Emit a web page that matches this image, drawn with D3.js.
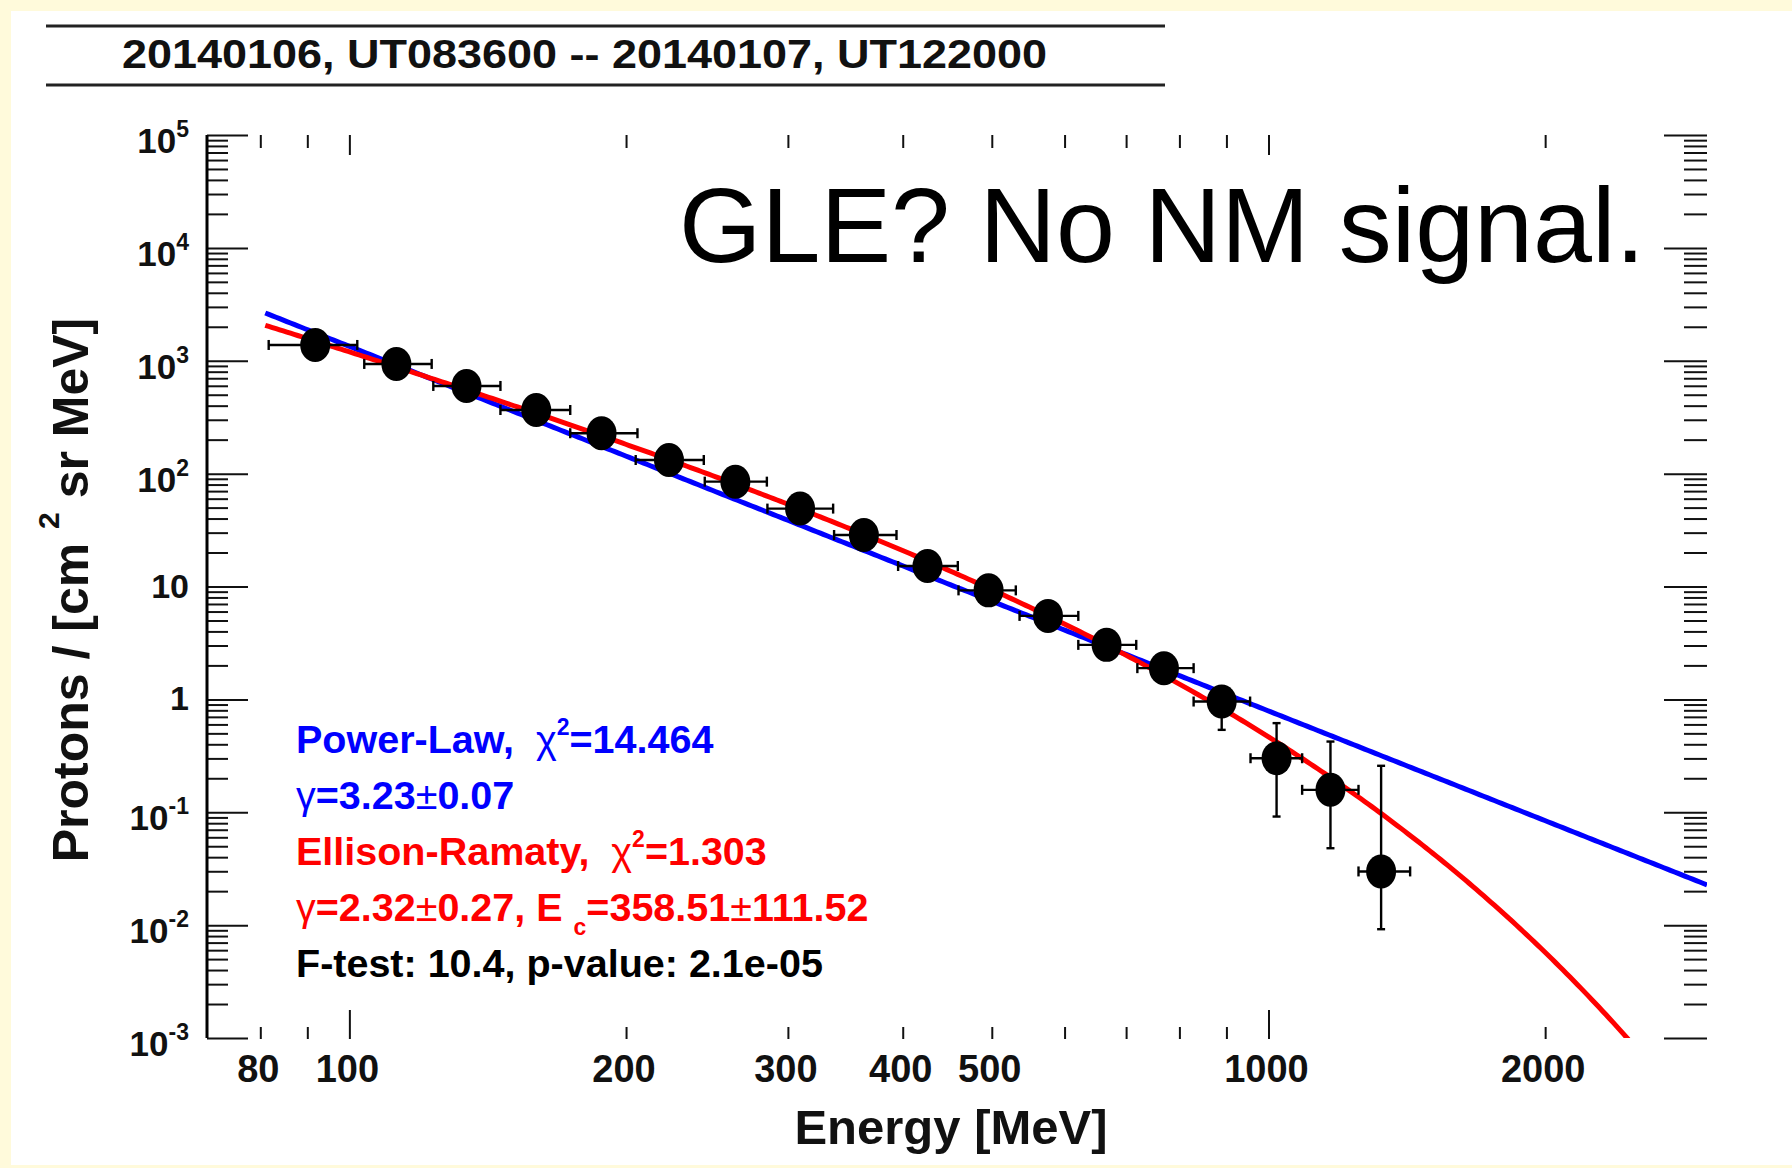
<!DOCTYPE html>
<html>
<head>
<meta charset="utf-8">
<script src="https://cdn.jsdelivr.net/npm/d3@7"></script>
<style>
  html, body { margin: 0; padding: 0; background: #fffadb; }
  svg { display: block; }
  text { font-family: "Liberation Sans", Arial, Helvetica, sans-serif; white-space: pre; }
</style>
</head>
<body>
<svg id="chart" width="1792" height="1168"></svg>
<script>
// Proton differential spectrum, 2014-01-06 08:36 UT -- 2014-01-07 12:20 UT

// Energy bins [MeV]: centre, lower and upper edge
const energy   = [91.8, 112.5, 134.1, 159.7, 188.1, 222.7, 263, 309.3, 362.9, 425.6, 496, 575.6, 666.6, 769.6, 889.4, 1020.5, 1168, 1326];
const energyLo = [81.7, 103.8, 123.4, 146, 173.9, 204.9, 243.6, 285, 336.8, 395.4, 460, 536, 621, 720, 829, 956, 1088, 1253];
const energyHi = [102, 122.9, 146, 173.9, 205.8, 243, 284.6, 336, 393.8, 459.2, 531, 621, 718, 829, 955, 1088, 1253, 1426];

// Proton flux [1/(cm^2 sr MeV)] with lower / upper error limits
const flux   = [1380, 937, 598, 366, 228, 132, 84.9, 49.0, 28.6, 15.2, 9.24, 5.49, 3.04, 1.89, 0.957, 0.301, 0.158, 0.0299];
const fluxLo = [1300, 890, 570, 350, 218, 126, 81, 46.5, 27, 14.3, 8.6, 5.05, 2.75, 1.65, 0.537, 0.0916, 0.048, 0.0092];
const fluxHi = [1460, 985, 628, 382, 238, 138, 89, 51.5, 30.2, 16.1, 9.9, 5.95, 3.33, 2.13, 1.15, 0.616, 0.423, 0.258];

// Fit parameters
const plGamma = 3.23;      // power law index
const plNorm1GeV = 0.79;   // power law flux at 1000 MeV
const erGamma = 2.32;      // Ellison-Ramaty index
const erEc = 358.51;       // Ellison-Ramaty cut-off energy [MeV]
const erNorm1GeV = 0.466;  // Ellison-Ramaty flux at 1000 MeV
const fitEmin = 81, fitEmax = 3000;

// Axis ticks and labels
const xLabelValues = [80, 100, 200, 300, 400, 500, 1000, 2000];
const xMajorTicks = [100, 1000];
const xMinorTicks = [80, 90, 200, 300, 400, 500, 600, 700, 800, 900, 2000];
const yDecades = [5, 4, 3, 2, 1, 0, -1, -2, -3];

const legendLines = [
  { color: "#0000ff", parts: [["Power-Law,  ", "b"], ["\u03c7", "n"], ["2", "sup"], ["=14.464", "b"]] },
  { color: "#0000ff", parts: [["\u03b3", "n"], ["=3.23", "b"], ["\u00b1", "n"], ["0.07", "b"]] },
  { color: "#ff0000", parts: [["Ellison-Ramaty,  ", "b"], ["\u03c7", "n"], ["2", "sup"], ["=1.303", "b"]] },
  { color: "#ff0000", parts: [["\u03b3", "n"], ["=2.32", "b"], ["\u00b1", "n"], ["0.27, E ", "b"], ["c", "sub"], ["=358.51", "b"], ["\u00b1", "n"], ["111.52", "b"]] },
  { color: "#000000", parts: [["F-test: 10.4, p-value: 2.1e-05", "b"]] }
];

const svg = d3.select("#chart");

// white panel on the pale frame
svg.append("rect").attr("x", 11).attr("y", 11).attr("width", 1781).attr("height", 1154).attr("fill", "#ffffff");

const x = d3.scaleLog().domain([70, 3000]).range([207, 1707]);
const y = d3.scaleLog().domain([1e-3, 1e5]).range([1038, 135]);

// header with time interval
svg.append("line").attr("x1", 46).attr("x2", 1165).attr("y1", 26).attr("y2", 26).attr("stroke", "#222").attr("stroke-width", 3);
svg.append("line").attr("x1", 46).attr("x2", 1165).attr("y1", 85).attr("y2", 85).attr("stroke", "#222").attr("stroke-width", 3);
svg.append("text").attr("x", 122).attr("y", 68)
  .attr("font-size", 41).attr("font-weight", "bold").attr("fill", "#111")
  .attr("textLength", 925).attr("lengthAdjust", "spacingAndGlyphs")
  .text("20140106, UT083600 -- 20140107, UT122000");

// tick marks
function tickGroup(axis, tx, ty) {
  const g = svg.append("g").attr("transform", `translate(${tx},${ty})`).call(axis);
  g.select(".domain").remove();
  g.selectAll(".tick line").attr("stroke", "#111").attr("stroke-width", 2);
  g.selectAll(".tick text").remove();
  return g;
}
const yMajor = yDecades.map(d => Math.pow(10, d));
const yMinor = [];
yDecades.filter(d => d < 5).forEach(d => { for (let m = 2; m <= 9; m++) yMinor.push(m * Math.pow(10, d)); });

tickGroup(d3.axisRight(y).tickValues(yMinor).tickSize(21), 207, 0);
tickGroup(d3.axisRight(y).tickValues(yMajor).tickSize(41), 207, 0);
tickGroup(d3.axisLeft(y).tickValues(yMinor).tickSize(23), 1707, 0);
tickGroup(d3.axisLeft(y).tickValues(yMajor).tickSize(43), 1707, 0);
tickGroup(d3.axisTop(x).tickValues(xMinorTicks).tickSize(12), 0, 1039);
tickGroup(d3.axisTop(x).tickValues(xMajorTicks).tickSize(29), 0, 1039);
tickGroup(d3.axisBottom(x).tickValues(xMinorTicks).tickSize(13), 0, 135);
tickGroup(d3.axisBottom(x).tickValues(xMajorTicks).tickSize(20), 0, 135);

// left axis line
svg.append("line").attr("x1", 207).attr("x2", 207).attr("y1", y(1e5)).attr("y2", y(1e-3))
  .attr("stroke", "#000").attr("stroke-width", 3);

// y tick labels
yDecades.forEach(d => {
  const ty = y(Math.pow(10, d));
  const t = svg.append("text").attr("x", 189).attr("text-anchor", "end")
    .attr("font-weight", "bold").attr("fill", "#111");
  if (d === 0 || d === 1) {
    t.attr("y", ty + 11).attr("font-size", 34).text(d === 0 ? "1" : "10");
  } else {
    t.attr("y", ty + 18);
    t.append("tspan").attr("font-size", 35).text("10");
    t.append("tspan").attr("font-size", 23).attr("dy", -16).text(String(d));
  }
});

// x tick labels
svg.selectAll("text.xlab").data(xLabelValues).join("text")
  .attr("class", "xlab")
  .attr("x", v => x(v) - 2).attr("y", 1082)
  .attr("text-anchor", "middle").attr("font-size", 38).attr("font-weight", "bold").attr("fill", "#111")
  .text(v => v);

// axis titles
svg.append("text").attr("x", 951).attr("y", 1144).attr("text-anchor", "middle")
  .attr("font-size", 49).attr("font-weight", "bold").attr("fill", "#111").text("Energy [MeV]");

const yt = svg.append("text").attr("transform", "translate(88,590) rotate(-90)")
  .attr("text-anchor", "middle").attr("font-size", 50).attr("font-weight", "bold").attr("fill", "#111");
yt.append("tspan").text("Protons / [cm ");
yt.append("tspan").attr("font-size", 30).attr("dy", -29).text("2");
yt.append("tspan").attr("dy", 29).text(" sr MeV]");

// event note
svg.append("text").attr("x", 679).attr("y", 262)
  .attr("font-size", 106).attr("fill", "#000")
  .attr("textLength", 966).attr("lengthAdjust", "spacingAndGlyphs")
  .text("GLE? No NM signal.");

// clip to plot area
svg.append("defs").append("clipPath").attr("id", "plotClip")
  .append("rect").attr("x", 207).attr("y", 135).attr("width", 1500).attr("height", 903);

// fitted spectra
const fitE = d3.range(0, 401).map(i => fitEmin * Math.pow(fitEmax / fitEmin, i / 400));
const powerLaw = e => plNorm1GeV * Math.pow(e / 1000, -plGamma);
const ellisonRamaty = e => erNorm1GeV * Math.pow(e / 1000, -erGamma) * Math.exp(-(e - 1000) / erEc);
const line = d3.line().x(d => x(d[0])).y(d => y(d[1]));

const curves = svg.append("g").attr("clip-path", "url(#plotClip)");
curves.append("path").datum(fitE.map(e => [e, powerLaw(e)]))
  .attr("d", line).attr("fill", "none").attr("stroke", "#0000ff").attr("stroke-width", 5);
curves.append("path").datum(fitE.map(e => [e, ellisonRamaty(e)]))
  .attr("d", line).attr("fill", "none").attr("stroke", "#ff0000").attr("stroke-width", 5);

// data points with error bars
const pts = energy.map((e, i) => ({ e, lo: energyLo[i], hi: energyHi[i], f: flux[i], fl: fluxLo[i], fh: fluxHi[i] }));
const eb = svg.append("g").attr("stroke", "#000").attr("stroke-width", 2.4);
pts.forEach(p => {
  const cx = x(p.e), cy = y(p.f);
  eb.append("line").attr("x1", x(p.lo)).attr("x2", x(p.hi)).attr("y1", cy).attr("y2", cy);
  eb.append("line").attr("x1", x(p.lo)).attr("x2", x(p.lo)).attr("y1", cy - 5).attr("y2", cy + 5);
  eb.append("line").attr("x1", x(p.hi)).attr("x2", x(p.hi)).attr("y1", cy - 5).attr("y2", cy + 5);
  eb.append("line").attr("x1", cx).attr("x2", cx).attr("y1", y(p.fh)).attr("y2", y(p.fl));
  eb.append("line").attr("x1", cx - 4).attr("x2", cx + 4).attr("y1", y(p.fh)).attr("y2", y(p.fh));
  eb.append("line").attr("x1", cx - 4).attr("x2", cx + 4).attr("y1", y(p.fl)).attr("y2", y(p.fl));
});
svg.append("g").selectAll("ellipse").data(pts).join("ellipse")
  .attr("cx", p => x(p.e)).attr("cy", p => y(p.f))
  .attr("rx", 15).attr("ry", 17).attr("fill", "#000");

// fit summary
legendLines.forEach((ln, i) => {
  const t = svg.append("text").attr("x", 296).attr("y", 753 + i * 56)
    .attr("font-size", 39.5).attr("fill", ln.color);
  let shift = 0;
  ln.parts.forEach(([s, kind]) => {
    const ts = t.append("tspan").text(s);
    let target = 0;
    if (kind === "sup") { ts.attr("font-size", 23).attr("font-weight", "bold"); target = -18; }
    else if (kind === "sub") { ts.attr("font-size", 23).attr("font-weight", "bold"); target = 14; }
    else if (kind === "b") ts.attr("font-weight", "bold");
    else ts.attr("font-weight", "normal");
    if (target !== shift) { ts.attr("dy", target - shift); shift = target; }
  });
});
</script>
</body>
</html>
